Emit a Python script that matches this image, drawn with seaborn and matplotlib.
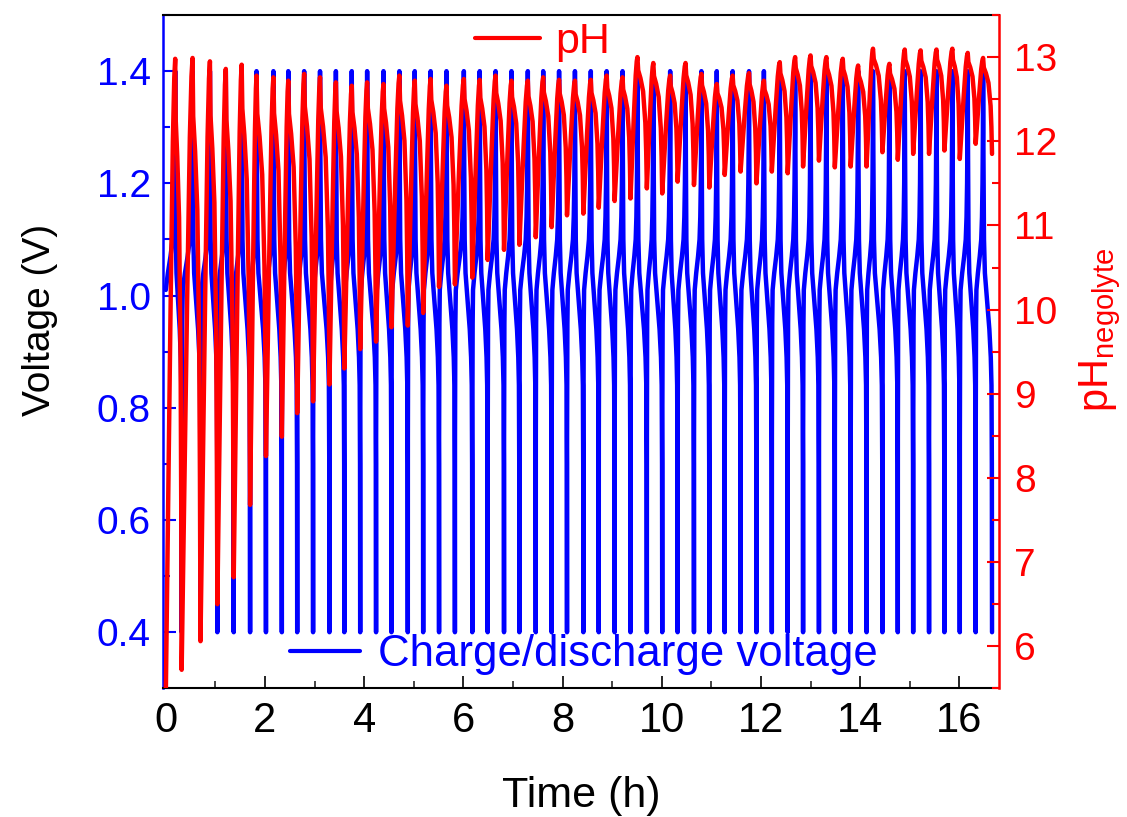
import numpy as np
import pandas as pd
import matplotlib
matplotlib.use("Agg")
import matplotlib.pyplot as plt
import seaborn as sns
from matplotlib.ticker import MultipleLocator
from matplotlib.lines import Line2D

# ---------------- data ----------------
# time (h) of each charge cut-off (voltage peak) and each discharge end
peak_time_h = [0.19, 0.54, 0.89, 1.21, 1.53, 1.83, 2.17, 2.47, 2.79, 3.11,
               3.43, 3.75, 4.06, 4.39, 4.71, 5.02, 5.34, 5.66, 6.01, 6.33,
               6.65, 6.97, 7.30, 7.61, 7.93, 8.25, 8.57, 8.89, 9.21, 9.51,
               9.83, 10.17, 10.48, 10.80, 11.11, 11.43, 11.76, 12.06, 12.38, 12.69,
               13.00, 13.32, 13.65, 13.96, 14.26, 14.59, 14.90, 15.22, 15.54, 15.86,
               16.17, 16.48]
end_time_h = [0.32, 0.70, 1.04, 1.37, 1.70, 2.02, 2.34, 2.65, 2.97, 3.30,
              3.60, 3.92, 4.24, 4.55, 4.88, 5.19, 5.51, 5.83, 6.18, 6.49,
              6.82, 7.13, 7.46, 7.78, 8.09, 8.42, 8.73, 9.05, 9.37, 9.70,
              10.01, 10.32, 10.65, 10.96, 11.27, 11.59, 11.91, 12.22, 12.54, 12.85,
              13.17, 13.49, 13.81, 14.13, 14.45, 14.76, 15.07, 15.39, 15.70, 16.01,
              16.33, 16.66]
# pH of the negolyte at each voltage peak and at each discharge end
ph_peak = [12.98, 12.99, 12.95, 12.86, 12.91, 12.78, 12.76, 12.72, 12.80, 12.76,
           12.70, 12.66, 12.70, 12.68, 12.78, 12.72, 12.74, 12.66, 12.74, 12.73,
           12.78, 12.72, 12.72, 12.76, 12.73, 12.72, 12.73, 12.78, 12.76, 13.00,
           12.93, 12.78, 12.93, 12.80, 12.68, 12.78, 12.81, 12.72, 12.94, 13.00,
           13.02, 13.00, 12.98, 12.90, 13.10, 12.92, 13.09, 13.08, 13.09, 13.10,
           13.05, 12.99]
ph_min = [5.72, 6.06, 6.50, 6.82, 7.68, 8.26, 8.49, 8.77, 8.91, 9.11,
          9.30, 9.53, 9.62, 9.79, 9.81, 9.96, 10.27, 10.30, 10.38, 10.59,
          10.71, 10.77, 10.86, 10.98, 11.12, 11.14, 11.21, 11.29, 11.32, 11.44,
          11.38, 11.52, 11.48, 11.45, 11.60, 11.64, 11.50, 11.64, 11.62, 11.70,
          11.77, 11.69, 11.70, 11.70, 11.87, 11.78, 11.85, 11.85, 11.89, 11.79,
          11.97, 11.85]
ph_start = 5.4
v_start = 1.0

# voltage profile within one half-cycle (fraction of half-cycle, volts)
charge_frac = [0.0, 0.01, 0.05, 0.10, 0.30, 0.55, 0.75, 0.85, 0.92, 0.97, 1.0]
charge_volt = [0.40, 0.75, 0.95, 1.01, 1.04, 1.07, 1.10, 1.14, 1.20, 1.29, 1.40]
dis_frac = [0.0, 0.04, 0.10, 0.20, 0.45, 0.70, 0.86, 0.94, 0.98, 1.0]
dis_volt = [1.40, 1.25, 1.10, 1.04, 0.99, 0.94, 0.89, 0.84, 0.70, 0.40]
# pH profile within one half-cycle (fraction of half-cycle, fraction of swing)
ph_rise_frac = [0.0, 0.25, 0.50, 0.75, 0.90, 1.0]
ph_rise_part = [0.0, 0.30, 0.60, 0.87, 0.97, 1.0]
ph_fall_frac = [0.0, 0.08, 0.20, 0.32, 0.60, 0.84, 0.93, 1.0]
ph_fall_part = [0.0, 0.10, 0.13, 0.16, 0.26, 0.50, 0.72, 1.0]

# ---------------- assemble the series ----------------
tv, vv, tp, pp = [], [], [], []
prev_end, prev_min = 0.0, ph_start
for k in range(len(peak_time_h)):
    tc, te = peak_time_h[k], end_time_h[k]
    if k == 0:
        i0 = next(i for i, v in enumerate(charge_volt) if v >= v_start)
        u0 = charge_frac[i0]
        for f, v in zip(charge_frac[i0:], charge_volt[i0:]):
            tv.append(prev_end + (f - u0) / (1 - u0) * (tc - prev_end)); vv.append(v)
    else:
        for f, v in zip(charge_frac[1:], charge_volt[1:]):
            tv.append(prev_end + f * (tc - prev_end)); vv.append(v)
    for f, v in zip(dis_frac[1:], dis_volt[1:]):
        tv.append(tc + f * (te - tc)); vv.append(v)
    rs = ph_rise_frac if k == 0 else ph_rise_frac[1:]
    rp = ph_rise_part if k == 0 else ph_rise_part[1:]
    for f, g in zip(rs, rp):
        tp.append(prev_end + f * (tc - prev_end)); pp.append(prev_min + g * (ph_peak[k] - prev_min))
    for f, g in zip(ph_fall_frac[1:], ph_fall_part[1:]):
        tp.append(tc + f * (te - tc)); pp.append(ph_peak[k] - g * (ph_peak[k] - ph_min[k]))
    prev_end, prev_min = te, ph_min[k]

df_v = pd.DataFrame({"time": tv, "voltage": vv})
df_p = pd.DataFrame({"time": tp, "pH": pp})

# ---------------- styling ----------------
sns.set_style("ticks")
plt.rcParams["font.family"] = ["Liberation Sans", "DejaVu Sans"]
plt.rcParams["mathtext.fontset"] = "custom"
plt.rcParams["mathtext.rm"] = "Liberation Sans"
plt.rcParams["mathtext.it"] = "Liberation Sans:italic"

BLUE, RED = "#0000FF", "#FF0000"

fig = plt.figure(figsize=(11.27, 8.17), dpi=100)
ax = fig.add_axes([0.1449, 0.1575, 0.7415, 0.8241])
ax2 = ax.twinx()

sns.lineplot(data=df_v, x="time", y="voltage", sort=False, estimator=None,
             ax=ax, color=BLUE, linewidth=3.2, legend=False)
sns.lineplot(data=df_p, x="time", y="pH", sort=False, estimator=None,
             ax=ax2, color=RED, linewidth=3.2, legend=False)

ax.set_xlim(-0.05, 16.8)
ax.set_ylim(0.3, 1.5)
ax2.set_ylim(5.5, 13.5)

ax.xaxis.set_major_locator(MultipleLocator(2))
ax.xaxis.set_minor_locator(MultipleLocator(1))
ax.yaxis.set_major_locator(MultipleLocator(0.2))
ax.yaxis.set_minor_locator(MultipleLocator(0.1))
ax2.yaxis.set_major_locator(MultipleLocator(1))
ax2.yaxis.set_minor_locator(MultipleLocator(0.5))

for s in ["top", "bottom"]:
    ax.spines[s].set_color("black")
    ax.spines[s].set_linewidth(1.5)
ax.spines["left"].set_color(BLUE)
ax.spines["left"].set_linewidth(1.8)
ax.spines["right"].set_visible(False)
for s in ["left", "top", "bottom"]:
    ax2.spines[s].set_visible(False)
ax2.spines["right"].set_color(RED)
ax2.spines["right"].set_linewidth(1.8)

ax.tick_params(axis="x", which="major", direction="in", length=9, width=1.2,
               colors="black", labelsize=30, pad=9, top=False)
ax.tick_params(axis="x", which="minor", direction="in", length=5, width=1.2, top=False)
ax.tick_params(axis="y", which="major", direction="in", length=9, width=1.5,
               colors=BLUE, labelsize=28, pad=9)
ax.tick_params(axis="y", which="minor", direction="in", length=5, width=1.5, colors=BLUE)
ax2.tick_params(axis="y", which="major", direction="in", length=9, width=1.5,
                colors=RED, labelsize=28, pad=11)
ax2.tick_params(axis="y", which="minor", direction="in", length=5, width=1.5, colors=RED)

ax.set_xlabel("Time (h)", fontsize=31, color="black")
ax.set_ylabel("Voltage (V)", fontsize=28, color="black")
ax2.set_ylabel(r"pH$_{\mathrm{negolyte}}$", fontsize=30, color=RED)
ax.xaxis.label.set_verticalalignment("center")
ax.yaxis.label.set_verticalalignment("center")
ax2.yaxis.label.set_verticalalignment("center")
ax.xaxis.set_label_coords(0.5, -0.16)
ax.yaxis.set_label_coords(-0.1475, 0.547)
ax2.yaxis.set_label_coords(1.121, 0.532)

leg1 = ax2.legend(handles=[Line2D([], [], color=RED, lw=3)], labels=["pH"],
                  loc="center", bbox_to_anchor=(0.454, 0.96), frameon=False,
                  fontsize=31, handlelength=1.5, handletextpad=0.35,
                  borderpad=0.1, labelcolor=RED)
ax2.add_artist(leg1)
leg2 = ax2.legend(handles=[Line2D([], [], color=BLUE, lw=3)],
                  labels=["Charge/discharge voltage"],
                  loc="center", bbox_to_anchor=(0.503, 0.0495), frameon=False,
                  fontsize=31.5, handlelength=1.6, handletextpad=0.4,
                  borderpad=0.1, labelcolor=BLUE)

ax.set_facecolor("white")
fig.patch.set_facecolor("white")
fig.savefig("out.png", dpi=100, facecolor="white")
